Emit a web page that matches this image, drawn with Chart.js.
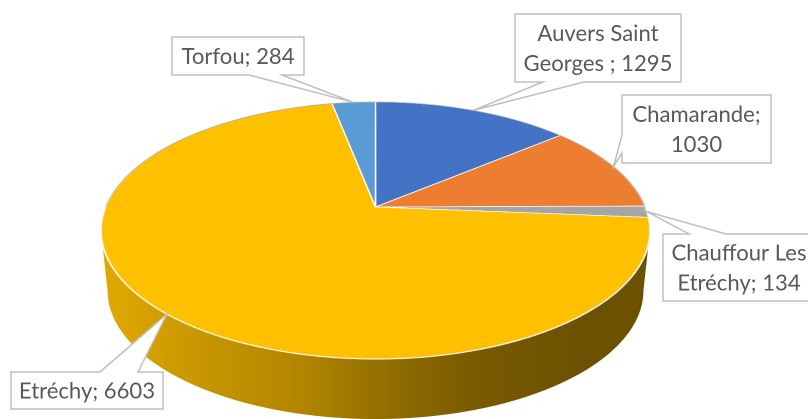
<!DOCTYPE html>
<html>
<head>
<meta charset="utf-8">
<style>
  html, body { margin: 0; padding: 0; background: #fff; overflow: hidden; }
  canvas { display: block; }
</style>
</head>
<body>
<canvas id="pieChart" width="808" height="419"></canvas>
<script src="https://cdn.jsdelivr.net/npm/chart.js@4"></script>
<script>
const categories = ['Auvers Saint Georges ', 'Chamarande', 'Chauffour Les Etréchy', 'Etréchy', 'Torfou'];
const values = [1295, 1030, 134, 6603, 284];
const sliceColors = ['#4472C4', '#ED7D31', '#A5A5A5', '#FFC000', '#5B9BD5'];

// label boxes: x, y, w, h, which edge the pointer leaves from, and the pointer's two base positions on it
const boxes = [
    { x: 515, y: 14, w: 166, h: 68, edge: 'bottom', from: 543, to: 584 },
    { x: 622, y: 95, w: 149, h: 68, edge: 'left', from: 135, to: 153 },
    { x: 663, y: 234, w: 152, h: 67, edge: 'top', from: 689, to: 726 },
    { x: 11, y: 372, w: 152, h: 37, edge: 'top', from: 100, to: 138 },
    { x: 172, y: 37, w: 132, h: 38, edge: 'bottom', from: 249, to: 282 }
];

// perspective of the disc: centre on screen, axis scales, tilt, and the drop of the lower rim
const view = { x: 375.5, y: 207, a: 269.9, b: 124.2, k: -0.183, drop: 60, shrink: 0.976 };
// shading of the side wall, left to right
const wallShade = [[0, 0.88], [0.18, 0.78], [0.36, 0.7], [0.54, 0.56], [0.69, 0.47], [0.9, 0.42], [1, 0.42]];

const dpr = 2;

function project(angle, bottom) {
    const u = Math.cos(angle), v = Math.sin(angle);
    const w = 1 + view.k * v;
    const s = bottom ? view.shrink : 1;
    return {
        x: view.x + view.a * s * u / w,
        y: view.y + (bottom ? view.drop : 0) + view.b * v / w
    };
}

function shade(hex, f) {
    const n = parseInt(hex.slice(1), 16);
    return 'rgb(' + [n >> 16, (n >> 8) & 255, n & 255].map(c => Math.round(c * f)).join(',') + ')';
}

function drawWall(ctx, arc, color) {
    // only the part of the rim facing the viewer shows
    const limit = Math.asin(-view.k);
    const start = Math.max(arc.startAngle, limit);
    const end = Math.min(arc.endAngle, Math.PI - limit);
    if (end <= start) return;
    const grad = ctx.createLinearGradient(view.x - view.a, 0, view.x + view.a, 0);
    wallShade.forEach(s => grad.addColorStop(s[0], shade(color, s[1])));
    ctx.beginPath();
    const steps = 120;
    for (let i = 0; i <= steps; i++) {
        const p = project(start + (end - start) * i / steps, false);
        ctx.lineTo(p.x, p.y);
    }
    for (let i = steps; i >= 0; i--) {
        const p = project(start + (end - start) * i / steps, true);
        ctx.lineTo(p.x, p.y);
    }
    ctx.closePath();
    ctx.fillStyle = grad;
    ctx.fill();
}

function drawFace(ctx, src, arc) {
    // redraw the flat pie one pixel row at a time through the perspective
    const W = src.width;
    const rowV = py => {
        const d = py / dpr - view.y;
        return d / (view.b - view.k * d);
    };
    const top = Math.floor((view.y - 110) * dpr);
    const bottom = Math.ceil((view.y + 158) * dpr);
    for (let py = top; py < bottom; py++) {
        const v0 = rowV(py), v1 = rowV(py + 1);
        const v = (v0 + v1) / 2;
        if (Math.abs(v) > 1.01) continue;
        const sc = view.a / (arc.outerRadius * (1 + view.k * v));
        const sy = (arc.y + v0 * arc.outerRadius) * dpr;
        const sh = (v1 - v0) * arc.outerRadius * dpr;
        ctx.drawImage(src, 0, sy, W, sh, (view.x - arc.x * sc) * dpr, py, W * sc, 1);
    }
}

function drawBackRim(ctx) {
    // thin grey line along the far edge of the disc
    ctx.beginPath();
    for (let i = 0; i <= 120; i++) {
        const p = project(Math.PI * (1 + i / 120), false);
        ctx.lineTo(p.x, p.y);
    }
    ctx.strokeStyle = 'rgba(110,120,130,0.55)';
    ctx.lineWidth = 0.8;
    ctx.stroke();
}

function wrap(ctx, text, maxWidth) {
    const lines = [];
    let line = '';
    text.split(' ').forEach(word => {
        const next = line ? line + ' ' + word : word;
        if (line && ctx.measureText(next).width > maxWidth) {
            lines.push(line);
            line = word;
        } else {
            line = next;
        }
    });
    lines.push(line);
    return lines;
}

function drawCallout(ctx, box, anchor, text) {
    const r = box.x + box.w, b = box.y + box.h;
    ctx.beginPath();
    ctx.moveTo(box.x, box.y);
    if (box.edge === 'top') {
        ctx.lineTo(box.from, box.y);
        ctx.lineTo(anchor.x, anchor.y);
        ctx.lineTo(box.to, box.y);
    }
    ctx.lineTo(r, box.y);
    ctx.lineTo(r, b);
    if (box.edge === 'bottom') {
        ctx.lineTo(box.to, b);
        ctx.lineTo(anchor.x, anchor.y);
        ctx.lineTo(box.from, b);
    }
    ctx.lineTo(box.x, b);
    if (box.edge === 'left') {
        ctx.lineTo(box.x, box.to);
        ctx.lineTo(anchor.x, anchor.y);
        ctx.lineTo(box.x, box.from);
    }
    ctx.closePath();
    ctx.fillStyle = '#fff';
    ctx.fill();
    ctx.strokeStyle = '#BFBFBF';
    ctx.lineWidth = 1.5;
    ctx.stroke();

    ctx.fillStyle = '#595959';
    ctx.font = '22.1px Lato, Carlito, sans-serif';
    ctx.textAlign = 'center';
    ctx.textBaseline = 'alphabetic';
    const lines = wrap(ctx, text, box.w - 8);
    const lh = 29.7;
    const first = box.y + box.h / 2 + 8 - (lines.length - 1) * lh / 2;
    lines.forEach((l, i) => ctx.fillText(l, box.x + box.w / 2, first + i * lh));
}

const tiltPlugin = {
    id: 'tilt',
    afterDraw(chart) {
        const ctx = chart.ctx;
        const arcs = chart.getDatasetMeta(0).data;
        const flat = document.createElement('canvas');
        flat.width = chart.canvas.width;
        flat.height = chart.canvas.height;
        flat.getContext('2d').drawImage(chart.canvas, 0, 0);

        ctx.save();
        ctx.setTransform(dpr, 0, 0, dpr, 0, 0);
        ctx.clearRect(0, 0, chart.width, chart.height);
        arcs.forEach((arc, i) => drawWall(ctx, arc, sliceColors[i]));
        ctx.setTransform(1, 0, 0, 1, 0, 0);
        drawFace(ctx, flat, arcs[0]);
        ctx.setTransform(dpr, 0, 0, dpr, 0, 0);
        drawBackRim(ctx);
        arcs.forEach((arc, i) => {
            const anchor = project((arc.startAngle + arc.endAngle) / 2, false);
            drawCallout(ctx, boxes[i], anchor, categories[i] + '; ' + values[i]);
        });
        ctx.restore();
    }
};

new Chart(document.getElementById('pieChart'), {
    type: 'pie',
    data: {
        labels: categories,
        datasets: [{
            data: values,
            backgroundColor: sliceColors,
            borderColor: '#fff',
            borderWidth: 1.2
        }]
    },
    options: {
        responsive: false,
        animation: false,
        devicePixelRatio: dpr,
        events: [],
        plugins: {
            legend: { display: false },
            tooltip: { enabled: false }
        }
    },
    plugins: [tiltPlugin]
});
</script>
</body>
</html>
